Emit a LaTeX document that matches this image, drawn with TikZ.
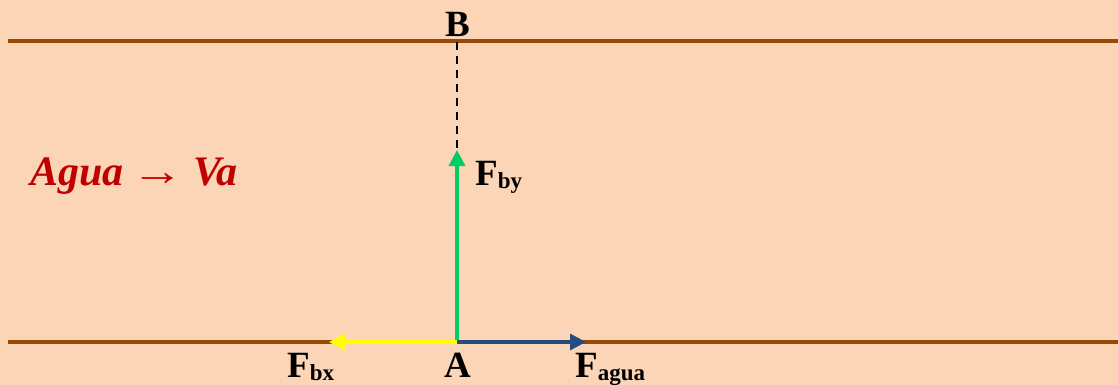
\documentclass[tikz,border=0pt]{standalone}
\usepackage{fontspec}
\setmainfont{Liberation Serif}
\usetikzlibrary{arrows.meta}
\definecolor{bg}{HTML}{FBD5B5}
\definecolor{bank}{HTML}{984807}
\definecolor{fgreen}{HTML}{00CC66}
\definecolor{fyellow}{HTML}{FFFF00}
\definecolor{fblue}{HTML}{254C80}
\definecolor{tred}{HTML}{C00000}
\newcommand{\subtxt}[1]{\raisebox{-3pt}{\fontsize{23}{25}\selectfont #1}}
\tikzset{
  bankline/.style={bank, line width=3.2pt},
  force/.style={line width=3.3pt, -{Triangle[length=16pt,width=16pt]}},
  lbl/.style={inner sep=0pt, font=\fontsize{37}{42}\selectfont\bfseries},
}
\begin{document}
\begin{tikzpicture}[x=1pt,y=-1pt]
\useasboundingbox[fill=bg] (0,0) rectangle (1118,385);
% river banks
\coordinate (tl) at (8,41);
\coordinate (tr) at (1118,41);
\coordinate (bl) at (8,342);
\coordinate (br) at (1118,342);
\draw[bankline] (tl) -- (tr);
\draw[bankline] (bl) -- (br);
% points
\coordinate (A) at (457,342);
\coordinate (Btop) at (457,42);
\coordinate (fy) at (457,150);
\coordinate (fx) at (329,342);
\coordinate (fa) at (586,342);
\draw[line width=2.5pt, dash pattern=on 8pt off 6pt] (Btop) -- (fy);
\draw[force, fgreen] (A) -- (fy);
\draw[force, fyellow] (A) -- (fx);
\draw[force, fblue] (A) -- (fa);
% labels
\node[lbl, anchor=base] (lB) at (458,37) {B};
\node[lbl, anchor=base] (lA) at (458,377) {A};
\node[lbl, anchor=base west] (lFby) at (475,185) {F\subtxt{by}};
\node[lbl, anchor=base west] (lFbx) at (287,377) {F\subtxt{bx}};
\node[lbl, anchor=base west] (lFag) at (575,377) {F\subtxt{agua}};
\node[inner sep=0pt, anchor=base west, text=tred, font=\fontsize{42}{48}\selectfont\bfseries\itshape] (water) at (30,185) {Agua\hspace{8pt}{\normalfont\bfseries\scalebox{1.25}[1]{→}}\hspace{9pt}Va};
\end{tikzpicture}
\end{document}
